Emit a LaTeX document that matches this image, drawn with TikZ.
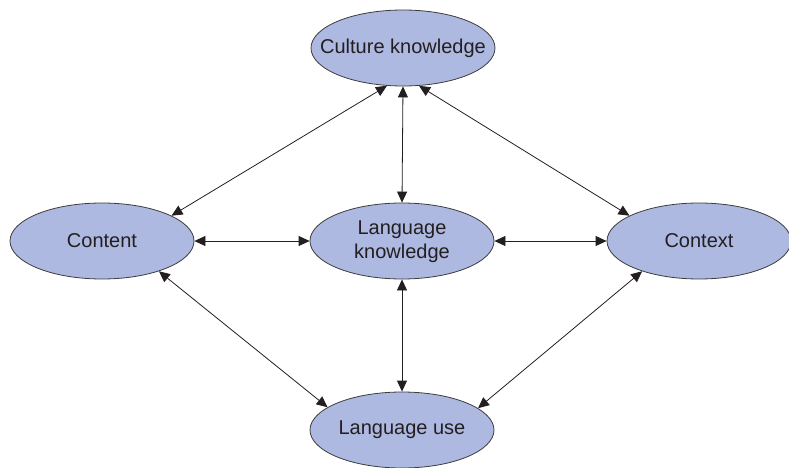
\documentclass[tikz,border=0pt]{standalone}
\usepackage{fontspec}
\setmainfont{Liberation Sans}
\usetikzlibrary{shapes.geometric,arrows.meta}
\definecolor{ellfill}{RGB}{174,185,225}
\definecolor{ellline}{RGB}{60,60,60}
\definecolor{txt}{RGB}{35,31,32}
\newcommand{\zw}[1]{\makebox[0pt]{#1}}
\begin{document}
\begin{tikzpicture}[x=1pt,y=-1pt,
  ell/.style={ellipse,draw=ellline,line width=0.8pt,fill=ellfill,minimum width=184pt,minimum height=76pt,inner sep=0pt,font=\fontsize{20}{25}\selectfont,text=txt},
  arr/.style={line width=0.8pt,draw=txt,{Triangle[length=11pt,width=10pt]}-{Triangle[length=11pt,width=10pt]}}]
\useasboundingbox (0,0) rectangle (789,468);
\node[ell] (cul) at (403,48) {\zw{Culture knowledge}};
\node[ell] (con) at (102,241) {\zw{Content}};
\node[ell] (lk) at (402,241) {\zw{\begin{tabular}{@{}c@{}}Language\\[-1pt]knowledge\end{tabular}}};
\node[ell] (ctx) at (699,241) {\zw{Context}};
\node[ell] (lu) at (402,430) {\zw{Language use}};
\draw[arr] (cul.247) -- (con.20);
\draw[arr] (cul.south) -- (lk.north);
\draw[arr] (cul.293) -- (ctx.160);
\draw[arr] (con.east) -- (lk.west);
\draw[arr] (lk.east) -- (ctx.west);
\draw[arr] (con.332) -- (lu.163);
\draw[arr] (lk.south) -- (lu.north);
\draw[arr] (ctx.208) -- (lu.16);
\end{tikzpicture}
\end{document}
